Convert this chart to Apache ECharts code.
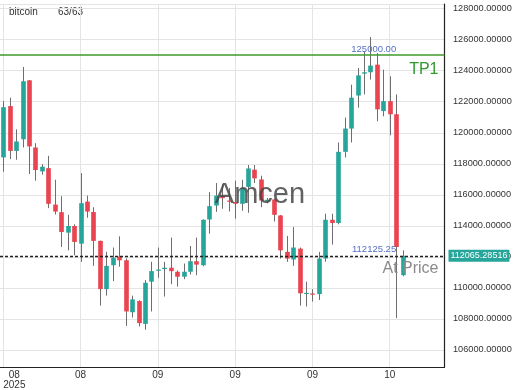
<!DOCTYPE html>
<html><head><meta charset="utf-8">
<script src="https://cdn.jsdelivr.net/npm/echarts@6/dist/echarts.min.js"></script>
<style>html,body{margin:0;padding:0;background:#fff}#c{width:520px;height:390px}</style>
</head><body><div id="c"></div>
<script>
// ---- data ----
const firstDate = '2025-08-09';
const slotCount = 69; // 63 candles + empty slots on the right
const opens  = [118410,121720,118830,119580,123380,119050,117510,117720,115370,114880,113560,113990,112850,115560,114890,113030,109920,111460,112020,111780,108430,109150,107680,110400,111100,111210,111300,111040,110720,111040,111720,111460,114410,115310,115910,115630,115530,115420,116510,117620,116990,115600,115700,114670,112320,111830,112530,109620,109640,109600,111890,114390,114180,118770,120270,122400,123810,123900,124390,121400,122040,121190,110820];
const closes = [121650,118830,119440,123320,119120,117600,117810,115420,114920,113600,113990,112960,115460,114920,113030,109920,111420,111940,111780,108480,109260,107730,110330,111080,111180,111300,111080,110720,111040,111720,111500,114390,115270,115950,115780,115560,115420,116420,117700,117060,115630,115680,114710,112420,111890,112600,109650,109680,109560,111890,114390,114180,118770,120270,122260,123700,123900,124330,121510,122040,121190,112640,112065.28516];
const lows   = [117490,118300,118260,119050,117340,116910,117300,115140,114730,112640,112420,112100,111680,114520,111420,108860,109500,110440,111360,107550,108090,107510,107300,108480,110650,109440,110240,110080,110560,110860,110820,111400,113490,114900,115100,114920,114460,114970,114840,116760,115200,115450,114280,111890,111680,111420,108860,108800,109120,109220,111680,112790,114100,118410,119370,121620,122470,123430,120740,121060,119840,108050,110750];
const highs  = [122040,122260,120220,124240,123400,119330,117980,118510,116970,115910,114710,114100,117400,115950,115200,113050,112320,112600,113320,111900,109500,109200,110500,111680,112600,111680,113240,111120,111570,112700,113240,114420,116170,116760,116700,116440,116910,116970,117920,117920,117230,115800,115760,114700,113350,113920,112600,110400,109920,112320,114780,114780,119370,120970,123100,124180,125240,126170,125140,124070,123640,122470,112420];
const tp1Price = 125000;
const lastPrice = 112065.28516;
const atPrice = 112125.25;
const yMin = 104900, yMax = 128300;
const seriesName = 'bitcoin';
const countText = '63/63';
const watermark = 'Amcen';

// ---- categories (dates) ----
const categories = [];
(function(){
  const d = new Date(firstDate + 'T00:00:00Z');
  for (let i = 0; i < slotCount; i++) {
    const t = new Date(d.getTime() + i * 86400000);
    categories.push(t.toISOString().slice(0,10));
  }
})();

const UP = '#26a69a', DOWN = '#e9444f', WICK = '#6e6e6e';
const TP_GREEN = '#3f9a2c';
const candleData = opens.map((o, i) => [i, o, closes[i], lows[i], highs[i]]);

function renderItem(params, api) {
  const x = api.value(0);
  const o = api.value(1), c = api.value(2), l = api.value(3), h = api.value(4);
  const pO = api.coord([x, o]), pC = api.coord([x, c]);
  const pL = api.coord([x, l]), pH = api.coord([x, h]);
  const w = api.size([1, 0])[0] * 0.72;
  const cx = Math.round(pO[0]) + 0.5;
  const top = Math.min(pO[1], pC[1]), bot = Math.max(pO[1], pC[1]);
  return {
    type: 'group',
    children: [
      { type: 'line', shape: { x1: cx, y1: pH[1], x2: cx, y2: pL[1] }, style: { stroke: WICK, lineWidth: 1 } },
      { type: 'rect', shape: { x: cx - w / 2, y: top, width: w, height: Math.max(bot - top, 1.2) },
        style: { fill: c >= o ? UP : DOWN } }
    ]
  };
}

const chart = echarts.init(document.getElementById('c'), null, { renderer: 'canvas' });
const FONT = 'Liberation Sans, Arial, sans-serif';
chart.setOption({
  animation: false,
  backgroundColor: '#fff',
  textStyle: { fontFamily: FONT },
  grid: { left: 0, right: 75.5, top: 4, bottom: 21, containLabel: false },
  graphic: [
    { type: 'text', left: 9, top: 7, style: { text: seriesName, fill: '#333', font: '10px ' + FONT } },
    { type: 'text', left: 58, top: 7, style: { text: countText, fill: '#333', font: '10px ' + FONT } },
    { type: 'text', left: 'center', top: 'middle', z: 10, silent: true,
      style: { text: watermark, fill: 'rgba(70,70,70,0.85)', font: '29px ' + FONT } }
  ],
  xAxis: {
    type: 'category',
    data: categories,
    boundaryGap: true,
    axisLine: { show: true, lineStyle: { color: '#222', width: 1.2 } },
    axisTick: { show: false, alignWithLabel: true },
    splitLine: { show: true, interval: 11, alignWithLabel: true, lineStyle: { color: '#e4e4e4', width: 1 } },
    axisLabel: {
      interval: 11, color: '#333', fontSize: 10, margin: 3, fontFamily: FONT,
      alignMinLabel: 'left',
      formatter: function (v, i) {
        const m = v.slice(5, 7);
        if (i === 0) return '{c|' + m + '}\n{c|' + v.slice(0, 4) + '}';
        return m;
      },
      rich: { c: { align: 'center', fontSize: 10, lineHeight: 10, color: '#333', fontFamily: FONT } }
    }
  },
  yAxis: {
    type: 'value',
    position: 'right',
    min: yMin, max: yMax,
    splitNumber: 11,
    scale: true,
    axisLine: { show: true, lineStyle: { color: '#222', width: 1.2 } },
    axisTick: { show: false },
    splitLine: { show: true, lineStyle: { color: '#e4e4e4', width: 1 } },
    axisLabel: {
      color: '#333', fontSize: 9.2, margin: 8.5, fontFamily: FONT,
      showMinLabel: false, showMaxLabel: false,
      formatter: function (v) { return (v % 2000 === 0) ? v.toFixed(5) : ''; }
    }
  },
  series: [
    {
      type: 'custom',
      name: seriesName,
      renderItem: renderItem,
      data: candleData,
      encode: { x: 0, y: [1, 2, 3, 4] },
      clip: true,
      z: 2
    },
    {
      type: 'line',
      name: 'TP1',
      data: [],
      silent: true,
      symbol: 'none',
      color: TP_GREEN,
      z: 3,
      markLine: {
        silent: true,
        symbol: ['none', 'none'],
        animation: false,
        emphasis: { disabled: true },
        blur: { lineStyle: { opacity: 1 } },
        lineStyle: { color: TP_GREEN, width: 1.6, type: 'solid', opacity: 1 },
        data: [
          { yAxis: tp1Price, lineStyle: { color: TP_GREEN, width: 1.6, type: 'solid', opacity: 1 },
            label: { show: true, position: 'insideEndBottom', formatter: 'TP1', color: '#2f9a2f', fontSize: 16, fontFamily: FONT, distance: 6 } }
        ]
      },
      markPoint: {
        silent: true,
        symbol: 'circle',
        symbolSize: 0,
        animation: false,
        data: [
          { coord: [61, tp1Price], label: { show: true, position: [0, -1], align: 'right', verticalAlign: 'bottom',
              formatter: tp1Price.toFixed(2), color: '#5470c6', fontSize: 9.5, fontFamily: FONT } },
          { coord: [61, atPrice], label: { show: true, position: [0, -1], align: 'right', verticalAlign: 'bottom',
              formatter: atPrice.toFixed(2), color: '#5470c6', fontSize: 9.5, fontFamily: FONT } }
        ]
      }
    },
    {
      type: 'line',
      name: 'price',
      data: [],
      silent: true,
      symbol: 'none',
      color: '#222',
      z: 3,
      markLine: {
        silent: true,
        symbol: ['none', 'none'],
        animation: false,
        data: [
          { yAxis: atPrice, lineStyle: { color: 'rgba(0,0,0,0)', width: 1 },
            label: { show: true, position: 'insideEndBottom', formatter: 'At Price', color: '#8a8a8a', fontSize: 16, fontFamily: FONT, distance: 6 } },
          { yAxis: lastPrice, lineStyle: { color: '#222', width: 1.3, type: [3, 2] },
            label: { show: true, position: 'end', formatter: lastPrice.toFixed(5), color: '#fff', backgroundColor: UP,
                     padding: [2, 2, 1, 2], fontSize: 9, fontFamily: FONT, distance: 4 } }
        ]
      }
    }
  ]
});
</script>
</body></html>
